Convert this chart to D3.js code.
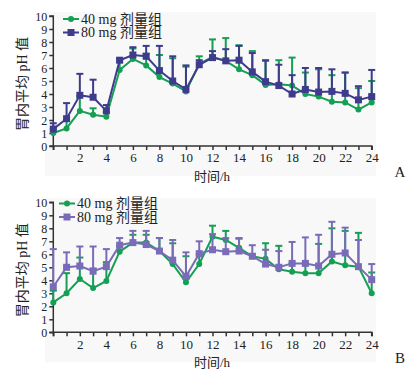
<!DOCTYPE html>
<meta charset="utf-8">
<style>
    body { margin: 0; background: #fff; }
    text { font-family: "Liberation Serif", "Noto Sans CJK SC", serif; fill: #222; }
</style>
<svg width="415" height="373"></svg>
<script src="https://d3js.org/d3.v7.min.js"></script>
<script>
    var hours = d3.range(0, 25);
    var xTickLabels = [2, 4, 6, 8, 10, 12, 14, 16, 18, 20, 22, 24];
    var yTickLabels = [0, 1, 2, 3, 4, 5, 6, 7, 8, 9, 10];
    var seriesNames = ["40 mg 剂量组", "80 mg 剂量组"];

    // panel A: mean and mean + SD
    var a40 = [1.0, 1.35, 2.7, 2.4, 2.25, 5.85, 6.7, 6.2, 5.3, 4.8, 4.2, 6.3, 6.85, 6.55, 5.9, 5.45, 4.7, 4.75, 4.65, 4.0, 3.8, 3.4, 3.35, 2.8, 3.35];
    var a40top = [1.3, 2.0, 3.85, 2.9, 2.6, 6.5, 7.5, 7.1, 7.0, 6.75, 6.1, 6.9, 8.2, 8.3, 7.75, 7.3, 6.55, 6.6, 6.8, 5.65, 5.9, 5.45, 5.65, 4.45, 5.0];
    var a80 = [1.3, 2.1, 3.9, 3.75, 2.7, 6.6, 7.0, 6.9, 5.8, 5.0, 4.35, 6.25, 6.8, 6.55, 6.6, 5.7, 4.95, 4.65, 4.0, 4.35, 4.15, 4.2, 4.05, 3.55, 3.8];
    var a80top = [1.75, 3.3, 5.55, 5.1, 3.15, 6.7, 7.6, 7.7, 7.7, 6.9, 6.2, 6.6, 7.3, 7.45, 7.7, 7.15, 6.6, 6.25, 5.45, 6.0, 6.0, 5.9, 5.65, 4.6, 5.85];

    // panel B
    var b40 = [2.3, 3.0, 4.1, 3.4, 3.95, 6.2, 6.9, 6.9, 6.25, 5.25, 3.85, 5.25, 7.35, 7.1, 6.5, 5.85, 5.65, 4.85, 4.65, 4.55, 4.55, 5.45, 5.15, 5.05, 3.0];
    var b40top = [3.2, 4.55, 5.75, 4.9, 5.4, 6.6, 7.5, 7.5, 7.25, 6.85, 5.85, 6.0, 8.2, 7.8, 7.2, 6.0, 6.85, 6.65, 5.3, 5.3, 6.8, 8.0, 7.8, 7.65, 4.6];
    var b80 = [3.5, 5.0, 5.1, 4.7, 5.05, 6.7, 6.9, 6.75, 6.25, 5.55, 4.3, 6.05, 6.35, 6.2, 6.25, 5.85, 5.25, 5.0, 5.3, 5.3, 5.1, 6.0, 6.1, 5.05, 4.05];
    var b80top = [6.4, 6.15, 6.6, 6.6, 6.4, 7.25, 7.8, 7.8, 7.25, 7.1, 6.15, 7.0, 7.55, 7.25, 7.25, 6.7, 6.35, 6.25, 6.95, 7.3, 7.5, 8.5, 8.05, 7.1, 5.25];

    var svg = d3.select("svg");
    var green = "#149f55";

    var x = d3.scaleLinear().domain([0, 24]).range([53.3, 371.7]);

    drawPanel({ top: 16, bottom: 146, mean40: a40, top40: a40top, mean80: a80, top80: a80top,
        purple: "#3e3b8c", letter: "A", legendX: 63, legendY: 19 });
    drawPanel({ top: 202.3, bottom: 332.3, mean40: b40, top40: b40top, mean80: b80, top80: b80top,
        purple: "#7a6bb9", letter: "B", legendX: 59, legendY: 203.5 });

    function drawPanel(p) {
        var y = d3.scaleLinear().domain([0, 10]).range([p.bottom, p.top]);
        var g = svg.append("g");

        g.append("rect")
            .attr("x", 45)
            .attr("y", p.top - 4)
            .attr("width", 331)
            .attr("height", p.bottom - p.top + 34)
            .attr("fill", "#f8f8f8");

        var yAxis = g.append("g")
            .attr("transform", "translate(" + x(0) + ",0)")
            .call(d3.axisLeft(y).tickValues(yTickLabels).tickSize(4).tickPadding(2));
        var xAxis = g.append("g")
            .attr("transform", "translate(0," + p.bottom + ")")
            .call(d3.axisBottom(x).tickValues(hours).tickSize(4).tickPadding(3)
                .tickFormat(function(d) { return xTickLabels.indexOf(d) >= 0 ? d : ""; }));
        [yAxis, xAxis].forEach(function(a) {
            a.attr("font-family", null).attr("font-size", null);
            a.select(".domain").attr("stroke", "#333").attr("stroke-width", 1.5);
            a.selectAll(".tick line").attr("stroke", "#333").attr("stroke-width", 1.5);
            a.selectAll("text").attr("fill", "#222");
        });
        yAxis.selectAll("text").attr("font-size", 12).attr("dy", "0.34em");
        xAxis.selectAll("text").attr("font-size", 13);
        yAxis.select(".domain").attr("d", "M-4," + p.bottom + "H0V" + p.top + "H-4");
        xAxis.select(".domain").attr("d", "M" + x(0) + ",4V0H" + x(24) + "V4");

        g.append("text")
            .attr("transform", "translate(27," + ((p.top + p.bottom) / 2 + 3) + ") rotate(-90)")
            .attr("text-anchor", "middle")
            .attr("font-size", 14)
            .text("胃内平均 pH 值");

        g.append("text")
            .attr("x", 212)
            .attr("y", p.bottom + 35)
            .attr("text-anchor", "middle")
            .attr("font-size", 13)
            .text("时间/h");

        g.append("text")
            .attr("x", 400)
            .attr("y", p.bottom + 31)
            .attr("text-anchor", "middle")
            .attr("font-size", 15)
            .text(p.letter);

        drawSeries(g, y, p.mean40, p.top40, green, "circle");
        drawSeries(g, y, p.mean80, p.top80, p.purple, "square");

        // legend
        var items = [[seriesNames[0], green, "circle"], [seriesNames[1], p.purple, "square"]];
        items.forEach(function(it, i) {
            var ly = p.legendY + i * 13.5;
            g.append("line")
                .attr("x1", p.legendX).attr("x2", p.legendX + 16)
                .attr("y1", ly).attr("y2", ly)
                .attr("stroke", it[1]).attr("stroke-width", 2);
            marker(g, p.legendX + 8, ly, it[1], it[2]);
            g.append("text")
                .attr("x", p.legendX + 18)
                .attr("y", ly + 4.5)
                .attr("font-size", 14)
                .text(it[0]);
        });
    }

    function drawSeries(g, y, mean, top, color, shape) {
        var line = d3.line()
            .x(function(d, i) { return x(hours[i]); })
            .y(function(d) { return y(d); });

        hours.forEach(function(h, i) {
            g.append("line")
                .attr("x1", x(h)).attr("x2", x(h))
                .attr("y1", y(mean[i])).attr("y2", y(top[i]))
                .attr("stroke", color).attr("stroke-width", 2);
            g.append("line")
                .attr("x1", x(h) - 3.5).attr("x2", x(h) + 3.5)
                .attr("y1", y(top[i])).attr("y2", y(top[i]))
                .attr("stroke", color).attr("stroke-width", 2);
        });

        g.append("path")
            .attr("d", line(mean))
            .attr("fill", "none")
            .attr("stroke", color)
            .attr("stroke-width", 2);

        hours.forEach(function(h, i) {
            marker(g, x(h), y(mean[i]), color, shape);
        });
    }

    function marker(g, cx, cy, color, shape) {
        if (shape == "circle") {
            g.append("circle")
                .attr("cx", cx).attr("cy", cy).attr("r", 3)
                .attr("fill", color);
        } else {
            g.append("rect")
                .attr("x", cx - 3.5).attr("y", cy - 3.5)
                .attr("width", 7).attr("height", 7)
                .attr("fill", color);
        }
    }
</script>
